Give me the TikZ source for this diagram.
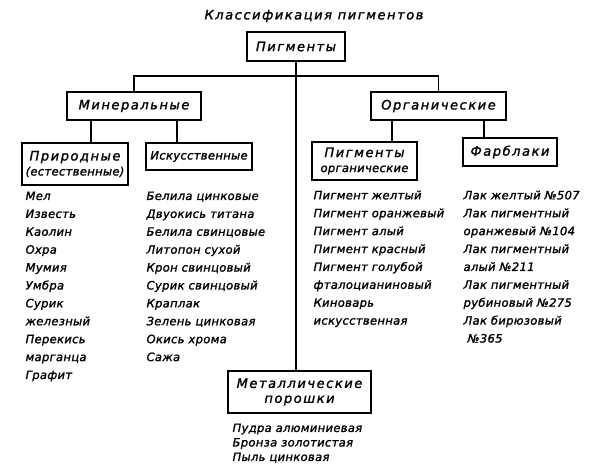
\documentclass[tikz,border=0pt]{standalone}
\usepackage{fontspec}
\setmainfont{DejaVu Sans}
\newfontfamily\spacedfont[LetterSpace=12,FakeBold=1.5]{DejaVu Sans}
\newfontfamily\listfont[LetterSpace=3,FakeBold=1.5]{DejaVu Sans}
\newcommand{\boxfont}{\spacedfont\itshape\fontsize{13}{15}\selectfont}
\newcommand{\itemfont}{\listfont\itshape\fontsize{11.5}{15}\selectfont}
\begin{document}
\begin{tikzpicture}[x=1pt,y=-1pt,line width=1.2pt,
  box/.style={draw,line width=1.6pt,inner sep=0pt,align=center,font=\boxfont},
  items/.style={anchor=north west,align=left,inner sep=0pt,font=\listfont\itshape\fontsize{11.5}{17.9}\selectfont}]
\useasboundingbox (0,0) rectangle (600,471);
\node[font=\boxfont] (title) at (314,16) {Классификация пигментов};
% boxes
\node[box,minimum width=98pt,minimum height=29pt] (pig) at (296,46.5) {Пигменты};
\node[box,minimum width=134pt,minimum height=28pt] (min) at (134,106) {Минеральные};
\node[box,minimum width=135pt,minimum height=28pt] (org) at (438.5,106) {Органические};
\node[box,minimum width=106pt,minimum height=42pt] (nat) at (75,164) {Природные\\{\itemfont(естественные)}};
\node[box,minimum width=106pt,minimum height=27pt] (art) at (199,156.5) {\itemfont Искусственные};
\node[box,minimum width=105pt,minimum height=38pt] (pigorg) at (364.5,161) {Пигменты\\{\itemfont органические}};
\node[box,minimum width=94pt,minimum height=28pt] (farb) at (510,152) {Фарблаки};
\node[box,minimum width=143pt,minimum height=42pt] (met) at (299.5,392) {Металлические\\порошки};
% lines
\coordinate (jn) at (296,76);
\draw (pig.south) -- (pig.south |- met.north);
\draw (min.north) |- (jn) -| (org.north);
\draw ([xshift=16pt]nat.north) -- ([xshift=16pt]nat.north |- min.south);
\draw ([xshift=-22pt]art.north) -- ([xshift=-22pt]art.north |- min.south);
\draw ([xshift=27.5pt]pigorg.north) -- ([xshift=27.5pt]pigorg.north |- org.south);
\draw ([xshift=-26pt]farb.north) -- ([xshift=-26pt]farb.north |- org.south);
% lists
\node[items] (natlist) at (25,191) {Мел\\Известь\\Каолин\\Охра\\Мумия\\Умбра\\Сурик\\железный\\Перекись\\марганца\\Графит};
\node[items] (artlist) at (146,191) {Белила цинковые\\Двуокись титана\\Белила свинцовые\\Литопон сухой\\Крон свинцовый\\Сурик свинцовый\\Краплак\\Зелень цинковая\\Окись хрома\\Сажа};
\node[items] (orglist) at (313,190) {Пигмент желтый\\Пигмент оранжевый\\Пигмент алый\\Пигмент красный\\Пигмент голубой\\фталоцианиновый\\Киноварь\\искусственная};
\node[items] (farblist) at (463,190) {Лак желтый №507\\Лак пигментный\\оранжевый №104\\Лак пигментный\\алый №211\\Лак пигментный\\рубиновый №275\\Лак бирюзовый\\\hspace{4pt}№365};
\node[items,font=\listfont\itshape\fontsize{11.5}{14.5}\selectfont] (metlist) at (232,423) {Пудра алюминиевая\\Бронза золотистая\\Пыль цинковая};
\end{tikzpicture}
\end{document}
